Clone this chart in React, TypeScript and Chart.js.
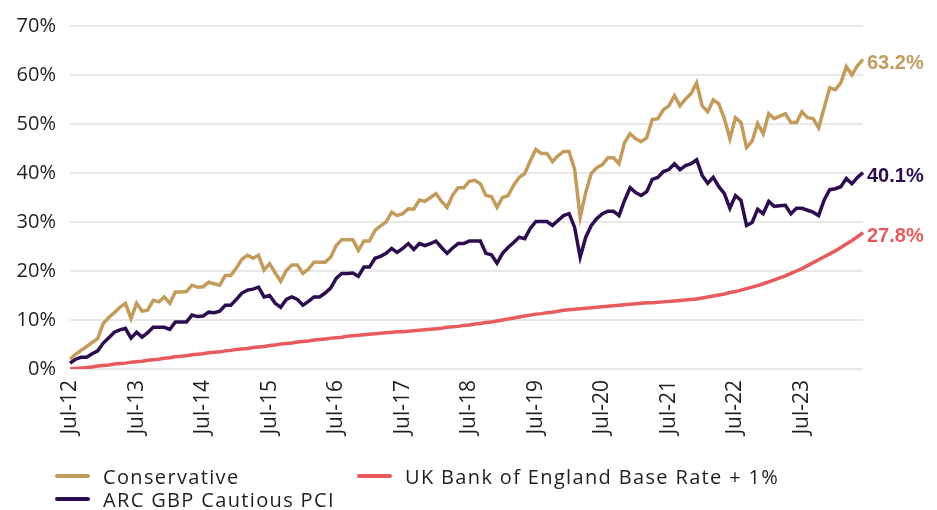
import React, { useEffect, useRef } from "react";
import { Chart, registerables } from "chart.js";

Chart.register(...registerables);

const MONTHS = ["Jan", "Feb", "Mar", "Apr", "May", "Jun", "Jul", "Aug", "Sep", "Oct", "Nov", "Dec"];
const START_YEAR = 2012;
const START_MONTH = 6; // Jul
const N_POINTS = 144; // Jul-12 .. Jun-24

const CATEGORIES: string[] = [];
for (let i = 0; i < N_POINTS; i++) {
  const m = (START_MONTH + i) % 12;
  const y = START_YEAR + Math.floor((START_MONTH + i) / 12);
  CATEGORIES.push(`${MONTHS[m]}-${String(y % 100).padStart(2, "0")}`);
}

const CONSERVATIVE = [
  2.0, 3.0, 3.8, 4.6, 5.4, 6.2, 9.3, 10.5, 11.5, 12.6,
  13.4, 10.3, 13.4, 11.8, 12.0, 14.0, 13.7, 14.7, 13.4, 15.7,
  15.7, 15.8, 17.1, 16.7, 16.8, 17.7, 17.4, 17.1, 19.1, 19.1,
  20.6, 22.4, 23.2, 22.6, 23.2, 20.2, 21.5, 19.6, 17.9, 20.1,
  21.2, 21.2, 19.5, 20.4, 21.8, 21.8, 21.8, 22.8, 25.2, 26.4,
  26.4, 26.4, 24.2, 26.1, 26.1, 28.3, 29.2, 30.0, 32.0, 31.3,
  31.7, 32.7, 32.6, 34.5, 34.2, 35.0, 35.8, 34.2, 33.0, 35.5,
  37.0, 37.0, 38.3, 38.5, 37.8, 35.4, 35.2, 33.0, 35.0, 35.4,
  37.5, 39.1, 39.9, 42.5, 44.8, 44.0, 44.0, 42.3, 43.5, 44.4,
  44.4, 40.7, 31.0, 36.0, 39.9, 41.1, 41.7, 43.1, 43.1, 41.9,
  46.2, 48.0, 47.0, 46.4, 47.2, 50.9, 51.1, 52.9, 53.7, 55.8,
  53.7, 55.1, 56.2, 58.4, 53.7, 52.5, 54.9, 54.1, 51.1, 47.0,
  51.3, 50.3, 45.2, 46.5, 50.1, 48.0, 52.1, 51.1, 51.6, 52.1,
  50.3, 50.3, 52.5, 51.3, 51.1, 49.2, 53.3, 57.4, 57.0, 58.4,
  61.7, 60.0, 61.9, 63.2,
];

const ARC_CAUTIOUS = [
  1.2, 2.0, 2.4, 2.4, 3.1, 3.7, 5.3, 6.4, 7.5, 8.0,
  8.3, 6.3, 7.5, 6.5, 7.4, 8.5, 8.5, 8.5, 8.1, 9.6,
  9.6, 9.6, 11.0, 10.7, 10.8, 11.6, 11.5, 11.8, 13.0, 13.0,
  14.2, 15.5, 16.1, 16.3, 16.7, 14.7, 15.0, 13.4, 12.6, 14.2,
  14.7, 14.2, 13.0, 13.8, 14.7, 14.7, 15.5, 16.5, 18.5, 19.5,
  19.5, 19.6, 18.9, 20.8, 20.8, 22.6, 23.0, 23.6, 24.6, 23.8,
  24.6, 25.6, 24.4, 25.6, 25.2, 25.6, 26.1, 24.8, 23.6, 24.7,
  25.6, 25.6, 26.1, 26.1, 26.1, 23.6, 23.3, 21.6, 23.6, 24.8,
  25.8, 26.9, 26.6, 28.7, 30.1, 30.1, 30.1, 29.3, 30.3, 31.3,
  31.7, 28.9, 22.8, 26.9, 29.3, 30.7, 31.7, 32.2, 32.2, 31.3,
  34.4, 37.0, 36.0, 35.4, 36.2, 38.7, 39.1, 40.3, 40.7, 41.9,
  40.7, 41.5, 41.9, 42.7, 39.5, 37.9, 39.1, 37.2, 35.8, 32.8,
  35.4, 34.4, 29.3, 29.9, 32.6, 31.7, 34.2, 33.2, 33.3, 33.4,
  31.7, 32.8, 32.8, 32.4, 32.0, 31.3, 34.5, 36.6, 36.8, 37.2,
  38.9, 37.8, 39.1, 40.1,
];

const BASE_RATE_PLUS_1 = [
  0.0, 0.1, 0.2, 0.3, 0.4, 0.6, 0.7, 0.8, 1.0, 1.1, 1.2, 1.4,
  1.5, 1.6, 1.8, 1.9, 2.0, 2.2, 2.3, 2.5, 2.6, 2.7, 2.9, 3.0,
  3.1, 3.3, 3.4, 3.5, 3.7, 3.8, 4.0, 4.1, 4.2, 4.4, 4.5, 4.6,
  4.8, 4.9, 5.1, 5.2, 5.3, 5.5, 5.6, 5.7, 5.9, 6.0, 6.1, 6.3,
  6.4, 6.5, 6.7, 6.8, 6.9, 7.0, 7.1, 7.2, 7.3, 7.4, 7.5, 7.6,
  7.6, 7.7, 7.8, 7.9, 8.0, 8.1, 8.2, 8.3, 8.5, 8.6, 8.7, 8.9,
  9.0, 9.2, 9.3, 9.5, 9.6, 9.8, 10.0, 10.2, 10.4, 10.6, 10.8, 11.0,
  11.2, 11.3, 11.5, 11.6, 11.8, 12.0, 12.1, 12.2, 12.3, 12.4, 12.5, 12.6,
  12.7, 12.8, 12.9, 13.0, 13.1, 13.2, 13.3, 13.4, 13.5, 13.5, 13.6, 13.7,
  13.8, 13.9, 14.0, 14.1, 14.2, 14.3, 14.5, 14.7, 14.9, 15.1, 15.3, 15.6,
  15.8, 16.1, 16.4, 16.7, 17.0, 17.4, 17.8, 18.2, 18.6, 19.0, 19.5, 20.0,
  20.5, 21.1, 21.7, 22.3, 22.9, 23.5, 24.1, 24.8, 25.5, 26.2, 27.0, 27.8,
];

const SERIES_NAMES = ["Conservative", "ARC GBP Cautious PCI", "UK Bank of England Base Rate + 1%"];
const SERIES_COLORS = ["#C39B5C", "#2E0C50", "#E85A5C"];
const Y_TICKS = [0, 10, 20, 30, 40, 50, 60, 70];

const TEXT_FONT = "'Open Sans', 'DejaVu Sans', sans-serif";

const endLabelPlugin = {
  id: "endLabels",
  afterDatasetsDraw(chart: any) {
    const ctx = chart.ctx;
    ctx.save();
    chart.data.datasets.forEach((ds: any, i: number) => {
      const meta = chart.getDatasetMeta(i);
      const pts = meta.data;
      if (!pts.length) return;
      const last = pts[pts.length - 1];
      const v = ds.data[ds.data.length - 1];
      ctx.font = "bold 20px 'Liberation Sans', Arial, sans-serif";
      ctx.fillStyle = ds.borderColor;
      ctx.textAlign = "left";
      ctx.textBaseline = "middle";
      ctx.fillText(`${v.toFixed(1)}%`, last.x + 4, last.y + 4);
    });
    ctx.restore();
  },
};

export default function App() {
  const canvasRef = useRef<HTMLCanvasElement | null>(null);

  useEffect(() => {
    if (!canvasRef.current) return;
    const seriesData = [CONSERVATIVE, ARC_CAUTIOUS, BASE_RATE_PLUS_1];
    const chart = new Chart(canvasRef.current, {
      type: "line",
      data: {
        labels: CATEGORIES,
        datasets: seriesData
          .map((d, i) => ({
            label: SERIES_NAMES[i],
            data: d,
            borderColor: SERIES_COLORS[i],
            backgroundColor: SERIES_COLORS[i],
            borderWidth: 3.5,
            pointRadius: 0,
            pointHoverRadius: 0,
            tension: 0,
            fill: false,
          }))
          .reverse(),
      },
      options: {
        animation: false,
        responsive: true,
        maintainAspectRatio: false,
        layout: { padding: { top: 25, right: 74, bottom: 0, left: 0 } },
        plugins: {
          legend: { display: false },
          tooltip: { enabled: false },
        },
        scales: {
          x: {
            type: "category",
            offset: false,
            grid: { display: false, drawTicks: false },
            border: { display: false },
            ticks: {
              autoSkip: false,
              minRotation: 90,
              maxRotation: 90,
              padding: 11,
              color: "#1f1f1f",
              font: { family: TEXT_FONT, size: 21 },
              callback: (_v: any, idx: number) =>
                CATEGORIES[idx].startsWith("Jul") ? CATEGORIES[idx] : "",
            },
            afterFit: (scale: any) => {
              scale.height = 141;
            },
          },
          y: {
            min: 0,
            max: 70,
            grid: { color: "#e8e8e8", lineWidth: 2, drawTicks: false },
            border: { display: false },
            afterBuildTicks: (scale: any) => {
              scale.ticks = Y_TICKS.map((v) => ({ value: v }));
            },
            ticks: {
              padding: 14,
              color: "#1f1f1f",
              font: { family: TEXT_FONT, size: 20 },
              callback: (v: any) => `${v}%`,
            },
            afterFit: (scale: any) => {
              scale.width = 70;
            },
          },
        },
      },
      plugins: [endLabelPlugin],
    });
    return () => chart.destroy();
  }, []);

  const legendItems = [
    { name: SERIES_NAMES[0], color: SERIES_COLORS[0], x: 55, y: 476 },
    { name: SERIES_NAMES[2], color: SERIES_COLORS[2], x: 357, y: 476 },
    { name: SERIES_NAMES[1], color: SERIES_COLORS[1], x: 55, y: 499 },
  ];

  return (
    <div
      style={{
        position: "fixed",
        left: 0,
        top: 0,
        width: 937,
        height: 510,
        background: "#ffffff",
        overflow: "hidden",
      }}
    >
      <div style={{ position: "absolute", left: 0, top: 0, width: 937, height: 510 }}>
        <canvas ref={canvasRef} />
      </div>
      {legendItems.map((it) => (
        <div
          key={it.name}
          style={{
            position: "absolute",
            left: it.x,
            top: it.y - 14,
            height: 28,
            display: "flex",
            alignItems: "center",
            whiteSpace: "nowrap",
            fontFamily: TEXT_FONT,
            fontSize: 20,
            letterSpacing: "1.35px",
            color: "#1f1f1f",
          }}
        >
          <span
            style={{
              display: "inline-block",
              width: 35,
              height: 4,
              borderRadius: 2,
              background: it.color,
              marginRight: 13,
            }}
          />
          <span>{it.name}</span>
        </div>
      ))}
    </div>
  );
}
